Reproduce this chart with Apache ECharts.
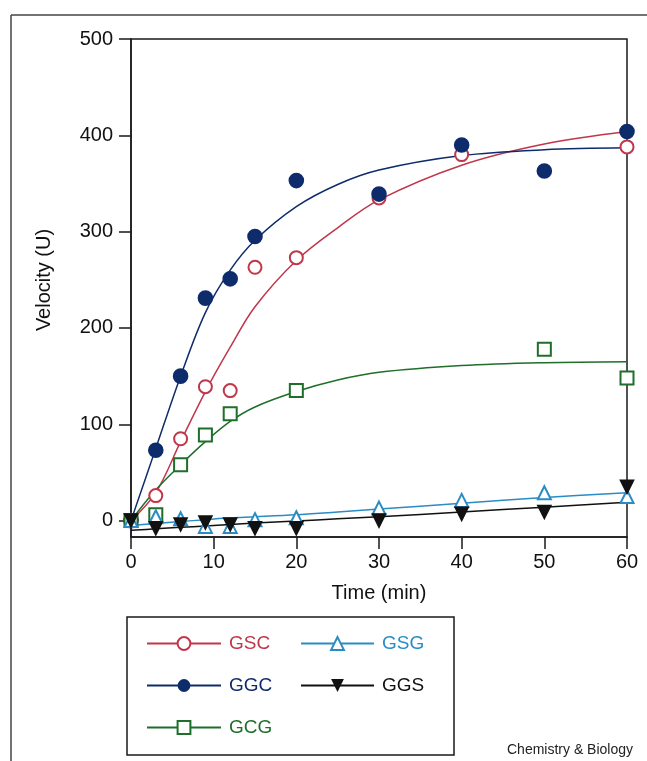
<!DOCTYPE html>
<html>
<head>
<meta charset="utf-8">
<script src="https://cdn.jsdelivr.net/npm/echarts@6.0.0/dist/echarts.min.js"></script>
<style>
  html, body { margin: 0; padding: 0; background: #fff; }
  #main { width: 647px; height: 761px; }
</style>
</head>
<body>
<div id="main"></div>
<script>
var myChart = echarts.init(document.getElementById('main'));

// measured points [time (min), velocity (U)]
const gscPts = [[0, 0], [3, 26], [6, 85], [9, 139], [12, 135], [15, 263], [20, 273], [30, 335], [40, 380], [60, 388]];
const ggcPts = [[0, 0], [3, 73], [6, 150], [9, 231], [12, 251], [15, 295], [20, 353], [30, 339], [40, 390], [50, 363], [60, 404]];
const gcgPts = [[0, 0], [3, 6], [6, 58], [9, 89], [12, 111], [20, 135], [50, 178], [60, 148]];
const gsgPts = [[0, 0], [3, 4], [6, 2], [9, -6], [12, -6], [15, 1], [20, 3], [30, 13], [40, 21], [50, 29], [60, 25]];
const ggsPts = [[0, 0], [3, -8], [6, -4], [9, -2], [12, -4], [15, -8], [20, -8], [30, 0], [40, 7], [50, 9], [60, 35]];

// fitted curves at these times
const fitT = [0, 3, 6, 9, 12, 15, 20, 25, 30, 40, 50, 60];
const gscFit = [0, 29, 82, 134, 180, 222, 270, 304, 333, 369, 391, 404];
const ggcFit = [0, 75, 150, 216, 260, 291, 326, 349, 364, 379, 385, 387];
const gcgFit = [0, 32, 58, 82, 103, 118, 134, 146, 154, 161, 164, 165];
const gsgFit = [-5, -3, -1, 1, 3, 4, 6, 9, 12, 18, 24, 29];
const ggsFit = [-10, -8.5, -7, -5.5, -4, -2.5, -0.5, 2, 4, 9, 14, 19];

const xTicks = [0, 10, 20, 30, 40, 50, 60];
const yTicks = [0, 100, 200, 300, 400, 500];

const FONT = '"Liberation Sans", Arial, sans-serif';

const sets = [
  { name: 'GSC', color: '#c0364a', symbol: 'emptyCircle', rotate: 0, size: 13, pts: gscPts, fit: gscFit },
  { name: 'GGC', color: '#0e2c6c', symbol: 'circle', rotate: 0, size: 14, pts: ggcPts, fit: ggcFit },
  { name: 'GCG', color: '#1f6e2a', symbol: 'emptyRect', rotate: 0, size: 13, pts: gcgPts, fit: gcgFit },
  { name: 'GSG', color: '#2a8cc4', symbol: 'emptyTriangle', rotate: 0, size: 13, pts: gsgPts, fit: gsgFit },
  { name: 'GGS', color: '#111111', symbol: 'triangle', rotate: 180, size: 13, pts: ggsPts, fit: ggsFit }
];

const series = [];
sets.forEach(function (s) {
  series.push({
    name: s.name,
    type: 'line',
    smooth: 0.35,
    showSymbol: false,
    symbol: s.symbol,
    symbolRotate: s.rotate,
    color: s.color,
    lineStyle: { color: s.color, width: 1.5 },
    itemStyle: { color: s.color },
    z: 2,
    data: fitT.map(function (t, i) { return [t, s.fit[i]]; })
  });
});
sets.forEach(function (s) {
  series.push({
    name: s.name,
    type: 'scatter',
    symbol: s.symbol,
    symbolRotate: s.rotate,
    symbolSize: s.size,
    itemStyle: { color: s.color, borderColor: s.color, borderWidth: 1.6, opacity: 1 },
    z: 3,
    data: s.pts
  });
});

function legendItem(s) {
  return { name: s.name, textStyle: { color: s.color } };
}

const option = {
  backgroundColor: '#fff',
  animation: false,
  textStyle: { fontFamily: FONT },
  grid: {
    left: 131, right: 20, top: 39, bottom: 224,
    show: true, borderColor: '#1a1a1a', borderWidth: 1.5
  },
  xAxis: {
    type: 'value',
    min: 0, max: 60, interval: 10,
    name: 'Time (min)',
    nameLocation: 'middle',
    nameGap: 46,
    nameTextStyle: { fontSize: 20, color: '#111', fontFamily: FONT },
    axisLine: { onZero: false, lineStyle: { color: '#1a1a1a', width: 1.5 } },
    axisTick: { length: 12, lineStyle: { color: '#1a1a1a', width: 1.5 } },
    axisLabel: {
      fontSize: 20, color: '#111', margin: 15, fontFamily: FONT,
      customValues: xTicks
    },
    splitLine: { show: false }
  },
  yAxis: {
    type: 'value',
    min: -17, max: 500,
    name: 'Velocity (U)',
    nameLocation: 'middle',
    nameGap: 77,
    nameTextStyle: { fontSize: 20, color: '#111', fontFamily: FONT, padding: [0, 0, 0, 16] },
    axisLine: { onZero: false, lineStyle: { color: '#1a1a1a', width: 1.5 } },
    axisTick: { length: 12, customValues: yTicks, lineStyle: { color: '#1a1a1a', width: 1.5 } },
    axisLabel: {
      fontSize: 20, color: '#111', margin: 18, fontFamily: FONT,
      customValues: yTicks
    },
    splitLine: { show: false }
  },
  legend: [
    {
      orient: 'vertical',
      left: 146, top: 634,
      padding: 0,
      itemWidth: 74, itemHeight: 16, itemGap: 23,
      textStyle: { fontSize: 19, fontFamily: FONT, padding: [0, 0, 0, 3] },
      data: [legendItem(sets[0]), legendItem(sets[1]), legendItem(sets[2])]
    },
    {
      orient: 'vertical',
      left: 300, top: 634,
      padding: 0,
      itemWidth: 73, itemHeight: 16, itemGap: 23,
      textStyle: { fontSize: 19, fontFamily: FONT, padding: [0, 0, 0, 3] },
      data: [legendItem(sets[3]), legendItem(sets[4])]
    }
  ],
  graphic: [
    { type: 'line', shape: { x1: 11, y1: 15, x2: 647, y2: 15 }, style: { stroke: '#444', lineWidth: 1.5 } },
    { type: 'line', shape: { x1: 11, y1: 15, x2: 11, y2: 761 }, style: { stroke: '#444', lineWidth: 1.5 } },
    { type: 'rect', shape: { x: 127, y: 617, width: 327, height: 138 }, style: { fill: 'none', stroke: '#1a1a1a', lineWidth: 1.5 } },
    { type: 'text', left: 507, top: 743, style: { text: 'Chemistry & Biology', font: '14px "Liberation Sans", Arial, sans-serif', fill: '#222' } }
  ],
  series: series
};

myChart.setOption(option);
</script>
</body>
</html>
